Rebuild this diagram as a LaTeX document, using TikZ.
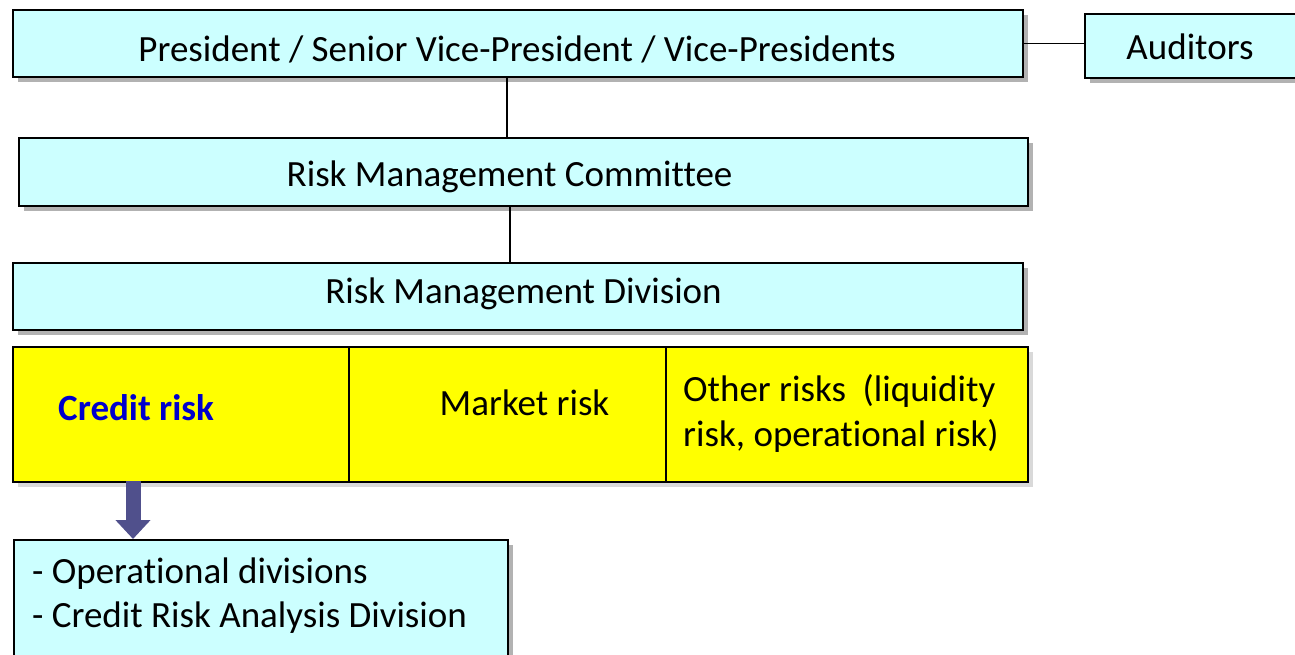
\documentclass[tikz,border=0pt]{standalone}
\usepackage{fontspec}
\setmainfont{Carlito}[Ligatures=NoCommon]
\usetikzlibrary{shadows,arrows.meta}
\definecolor{boxcyan}{HTML}{CCFFFF}
\definecolor{boxyellow}{HTML}{FFFF00}
\definecolor{arrowblue}{HTML}{50508C}
\definecolor{creditblue}{HTML}{0000CC}
\tikzset{
  box/.style={draw=black, line width=1.5pt, fill=boxcyan, inner sep=0pt,
    drop shadow={shadow xshift=5pt, shadow yshift=-5pt, fill=black!30, opacity=1}},
  cell/.style={draw=black, line width=1.5pt, fill=boxyellow, inner sep=0pt,
    drop shadow={shadow xshift=5pt, shadow yshift=-5pt, fill=black!15, opacity=1}},
  lbl/.style={inner sep=0pt, anchor=base},
  lbll/.style={inner sep=0pt, anchor=base west, align=left},
  link/.style={draw=black, line width=1.2pt},
  fat/.style={draw=arrowblue, line width=15pt, -{Triangle[width=34pt,length=19pt]}}
}
\begin{document}
\begin{tikzpicture}[x=1pt, y=-1pt, font=\fontsize{37}{44}\selectfont]
        \useasboundingbox (0,0) rectangle (1295,654);

        \node[box, minimum width=1010, minimum height=67] (pres) at (518,43.5) {};
        \node[box, minimum width=213, minimum height=64] (aud) at (1191.5,46) {};
        \node[box, minimum width=1009, minimum height=68] (comm) at (523.5,172) {};
        \node[box, minimum width=1010, minimum height=67] (div) at (518,296.5) {};
        \node[lbl] (prestxt) at (517,61) {President / Senior Vice-President / Vice-Presidents};
        \node[lbl] (audtxt) at (1190,59) {Auditors};
        \node[lbl] (commtxt) at (509.5,186) {Risk Management Committee};
        \node[lbl] (divtxt) at (523.5,303) {Risk Management Division};

        \node[cell, minimum width=336, minimum height=135] (credit) at (181,414.5) {};
        \node[cell, minimum width=317, minimum height=135] (market) at (507.5,414.5) {};
        \node[cell, minimum width=362, minimum height=135] (other) at (847,414.5) {};
        \node[lbll, text=creditblue, font=\fontsize{37}{44}\selectfont\bfseries] (credittxt) at (58,420) {Credit risk};
        \node[lbl] (markettxt) at (524.5,415) {Market risk};
        \node[lbll, font=\fontsize{37}{44.5}\selectfont] (othertxt) at (683,446) {Other risks~ (liquidity\\risk, operational risk)};

        \node[box, anchor=north west, minimum width=494, minimum height=140] (ops) at (13,539) {};
        \node[lbll] (opstxt) at (32,627) {- Operational divisions\\- Credit Risk Analysis Division};

        \draw[link] (pres.east) -- (pres.east -| aud.west);
        \draw[link] ([xshift=-11pt]pres.south) -- ([xshift=-11pt]pres.south |- comm.north);
        \draw[link] ([xshift=-13.5pt]comm.south) -- ([xshift=-13.5pt]comm.south |- div.north);
        \draw[fat] ([xshift=-48pt,yshift=2pt]credit.south) -- ([xshift=-48pt]credit.south |- ops.north);
    \end{tikzpicture}
\end{document}
